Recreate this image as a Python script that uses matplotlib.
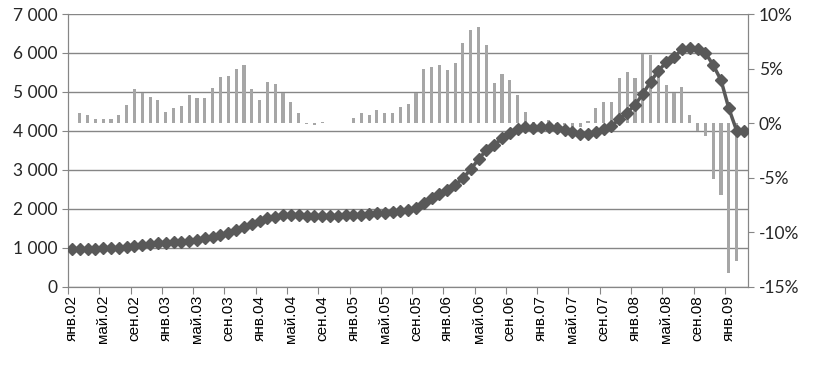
import matplotlib
matplotlib.use("Agg")
import matplotlib.pyplot as plt
import numpy as np
from matplotlib.ticker import FuncFormatter

plt.rcParams['axes.unicode_minus'] = False

# monthly categories, янв.02 .. мар.09
month_names = ['янв', 'фев', 'мар', 'апр', 'май', 'июн',
               'июл', 'авг', 'сен', 'окт', 'ноя', 'дек']
categories = []
for yy in range(2, 10):
    for mn in month_names:
        categories.append("%s.%02d" % (mn, yy))
categories = categories[:87]

# line, left axis
index_values = [960, 962, 968, 975, 986, 990, 995, 1027, 1052, 1078,
                1096, 1114, 1129, 1140, 1155, 1181, 1206, 1242, 1283, 1327,
                1386, 1450, 1540, 1609, 1694, 1755, 1797, 1832, 1840, 1832,
                1823, 1823, 1823, 1823, 1825, 1832, 1840, 1848, 1866, 1883,
                1900, 1917, 1943, 1975, 2028, 2156, 2269, 2372, 2482, 2610,
                2782, 3013, 3270, 3509, 3637, 3809, 3953, 4048, 4091, 4082,
                4091, 4100, 4065, 4022, 3963, 3920, 3911, 3970, 4048, 4133,
                4296, 4467, 4664, 4946, 5262, 5545, 5759, 5888, 6093, 6135,
                6093, 6006, 5690, 5305, 4579, 4007, 4007]

# bars, right axis (%)
monthly_change = [0, 0.95, 0.74, 0.38, 0.38, 0.38, 0.74, 1.66, 3.1, 2.73,
                  2.42, 2.12, 1.02, 1.39, 1.57, 2.55, 2.3, 2.3, 3.19, 4.2,
                  4.32, 4.96, 5.3, 3.1, 2.12, 3.77, 3.59, 2.73, 1.94, 0.9,
                  -0.1, -0.2, 0.1, 0.05, 0.05, 0.05, 0.47, 0.9, 0.72, 1.2,
                  0.9, 0.9, 1.45, 1.72, 2.79, 4.96, 5.12, 5.3, 4.84, 5.49,
                  7.32, 8.5, 8.79, 7.15, 3.68, 4.5, 3.95, 2.56, 1.0, 0.1,
                  -0.2, 0.3, -0.1, -0.2, -0.4, -0.4, 0.15, 1.39, 1.94, 1.94,
                  4.14, 4.69, 4.14, 6.34, 6.25, 4.32, 3.47, 2.76, 3.28, 0.72,
                  -0.7, -1.18, -5.16, -6.6, -13.7, -12.6, 0]

left_ticks = [0, 1000, 2000, 3000, 4000, 5000, 6000, 7000]
right_ticks = [-15, -10, -5, 0, 5, 10]

x = np.arange(len(categories))
grid_col = "#868686"

fig = plt.figure(figsize=(8.26, 3.66), dpi=100)
ax = fig.add_axes([0.0823, 0.2167, 0.906 - 0.0823, 0.9617 - 0.2167])
ax2 = ax.twinx()
# bars (host) labelled on the right, line (twin) on the left
ax.yaxis.tick_right()
ax2.yaxis.tick_left()

# bars on the % scale
ax.set_ylim(-15, 10)
for v in left_ticks:
    ax.axhline(-15 + v / 7000 * 25, color=grid_col, lw=1, zorder=0)
ax.bar(x, monthly_change, width=0.4, color="#A6A6A6", zorder=2)
ax.set_yticks(right_ticks)
ax.yaxis.set_major_formatter(FuncFormatter(lambda v, p: "%d%%" % v))

# line on the level scale
ax2.plot(x, index_values, color="#595959", lw=2.5, marker="D", ms=6.5,
         zorder=3)
ax2.set_ylim(0, 7000)
ax2.set_yticks(left_ticks)
ax2.yaxis.set_major_formatter(
    FuncFormatter(lambda v, p: "{:,}".format(int(v)).replace(",", " ")))

ax.set_xlim(-0.5, len(categories) - 0.5)
ax.set_xticks(np.arange(-0.5, len(categories), 4))
ax.set_xticklabels([])
ax.set_xticks(x[::4], minor=True)
ax.set_xticklabels(categories[::4], minor=True, rotation=90,
                   fontsize=11, family="Liberation Sans")
ax.tick_params(axis="x", which="minor", length=0, pad=6)
ax.tick_params(axis="x", which="major", length=5, color=grid_col)

for a in (ax, ax2):
    a.spines["top"].set_visible(False)
    for s in ("left", "right", "bottom"):
        a.spines[s].set_color(grid_col)
    a.tick_params(axis="y", length=4, color=grid_col, labelsize=12.5)
    for lab in a.get_yticklabels():
        lab.set_family("Lato")
        lab.set_color("#262626")

fig.savefig("out.png", dpi=100)
